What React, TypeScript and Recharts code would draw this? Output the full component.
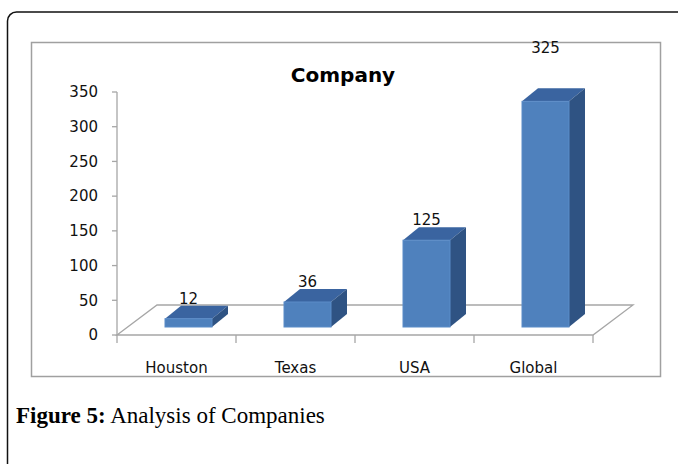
import React from 'react';
import { BarChart, Bar, XAxis, YAxis } from 'recharts';

const categories = ['Houston', 'Texas', 'USA', 'Global'];
const companyValues = [12, 36, 125, 325];
const yTicks = [0, 50, 100, 150, 200, 250, 300, 350];
const chartTitle = 'Company';
const captionLabel = 'Figure 5:';
const captionText = ' Analysis of Companies';

const data = categories.map((name, i) => ({ name, value: companyValues[i] }));

const FONT = '"DejaVu Sans", sans-serif';
const AXIS = '#a6a6a6';
const CHART_W = 678;
const CHART_H = 464;
const MARGIN = { top: 92, right: 85, bottom: 99, left: 57 };
const Y_AXIS_W = 60;
const PLOT_W = CHART_W - MARGIN.left - MARGIN.right - Y_AXIS_W;
const BAND = PLOT_W / categories.length;
const FLOOR_DX = 40;
const FLOOR_DY = -30;
const BAR_DX = 12;
const BAR_DY = -8;
const DEPTH_DX = 16;
const DEPTH_DY = -13;
const TOP_LABEL_LIFT = 33;
const maxValue = Math.max(...companyValues);

function XTick(props: any) {
  const { x, y, payload, index, visibleTicksCount } = props;
  const left = x - BAND / 2;
  const right = x + BAND / 2;
  return (
    <g>
      <line x1={left} y1={y} x2={left} y2={y + 8} stroke={AXIS} strokeWidth={1.3} />
      {index === visibleTicksCount - 1 && (
        <line x1={right} y1={y} x2={right} y2={y + 8} stroke={AXIS} strokeWidth={1.3} />
      )}
      <text x={x} y={y + 38} textAnchor="middle" fontFamily={FONT} fontSize={15} fill="#111">
        {payload.value}
      </text>
    </g>
  );
}

function Bar3D(props: any) {
  const { x, y, width, height, payload, index } = props;
  if (x == null || y == null) return null;
  const base = y + height;
  const fx = x + BAR_DX;
  const fy = y + BAR_DY;
  const fw = width;
  const fh = height;
  const v = payload ? payload.value : 0;
  const lift = v === maxValue ? TOP_LABEL_LIFT : 0;
  let floor = null;
  if (index === 0) {
    const plotLeft = x + width / 2 - BAND / 2;
    const plotRight = plotLeft + BAND * categories.length;
    floor = (
      <polygon
        points={`${plotLeft},${base} ${plotLeft + FLOOR_DX},${base + FLOOR_DY} ${plotRight + FLOOR_DX},${base + FLOOR_DY} ${plotRight},${base}`}
        fill="#ffffff"
        stroke={AXIS}
        strokeWidth={1.3}
      />
    );
  }
  return (
    <g>
      {floor}
      <polygon
        points={`${fx},${fy} ${fx + DEPTH_DX},${fy + DEPTH_DY} ${fx + fw + DEPTH_DX},${fy + DEPTH_DY} ${fx + fw},${fy}`}
        fill="#3a64a0"
      />
      <polygon
        points={`${fx + fw},${fy} ${fx + fw + DEPTH_DX},${fy + DEPTH_DY} ${fx + fw + DEPTH_DX},${fy + fh + DEPTH_DY} ${fx + fw},${fy + fh}`}
        fill="#2f5383"
      />
      <rect x={fx} y={fy} width={fw} height={fh} fill="#4f81bd" stroke="#5b8cc8" strokeWidth={1} />
      <text
        x={fx + fw / 2}
        y={fy + DEPTH_DY - 2 - lift}
        textAnchor="middle"
        fontFamily={FONT}
        fontSize={15}
        fill="#111"
      >
        {v}
      </text>
    </g>
  );
}

export default function App() {
  return (
    <div style={{ position: 'absolute', left: 0, top: 0, width: CHART_W, height: CHART_H, background: '#fff' }}>
      <svg width={CHART_W} height={CHART_H} style={{ position: 'absolute', left: 0, top: 0 }}>
        <rect x={7.5} y={12} width={700} height={500} rx={9} ry={9} fill="#fff" stroke="#111" strokeWidth={1.5} />
        <rect x={31.5} y={42.5} width={629} height={334} fill="#fff" stroke="#a0a0a0" strokeWidth={1.5} />
        <text x={343} y={82} textAnchor="middle" fontFamily={FONT} fontWeight="bold" fontSize={20} fill="#000">
          {chartTitle}
        </text>
        <text x={16} y={423} fontFamily='"Liberation Serif", serif' fontSize={23} fill="#000">
          <tspan fontWeight="bold">{captionLabel}</tspan>
          <tspan>{captionText}</tspan>
        </text>
      </svg>
      <div style={{ position: 'absolute', left: 0, top: 0 }}>
        <BarChart width={CHART_W} height={CHART_H} data={data} margin={MARGIN} barSize={47}>
          <XAxis
            dataKey="name"
            height={30}
            axisLine={false}
            tickLine={false}
            tickSize={0}
            tickMargin={0}
            interval={0}
            tick={<XTick />}
          />
          <YAxis
            width={Y_AXIS_W}
            domain={[0, 350]}
            ticks={yTicks}
            interval={0}
            axisLine={{ stroke: AXIS, strokeWidth: 1.3 }}
            tickLine={{ stroke: AXIS, strokeWidth: 1.3 }}
            tickSize={5}
            tickMargin={14}
            tick={{ fontFamily: FONT, fontSize: 15, fill: '#111' }}
          />
          <Bar dataKey="value" isAnimationActive={false} shape={<Bar3D />} />
        </BarChart>
      </div>
    </div>
  );
}
